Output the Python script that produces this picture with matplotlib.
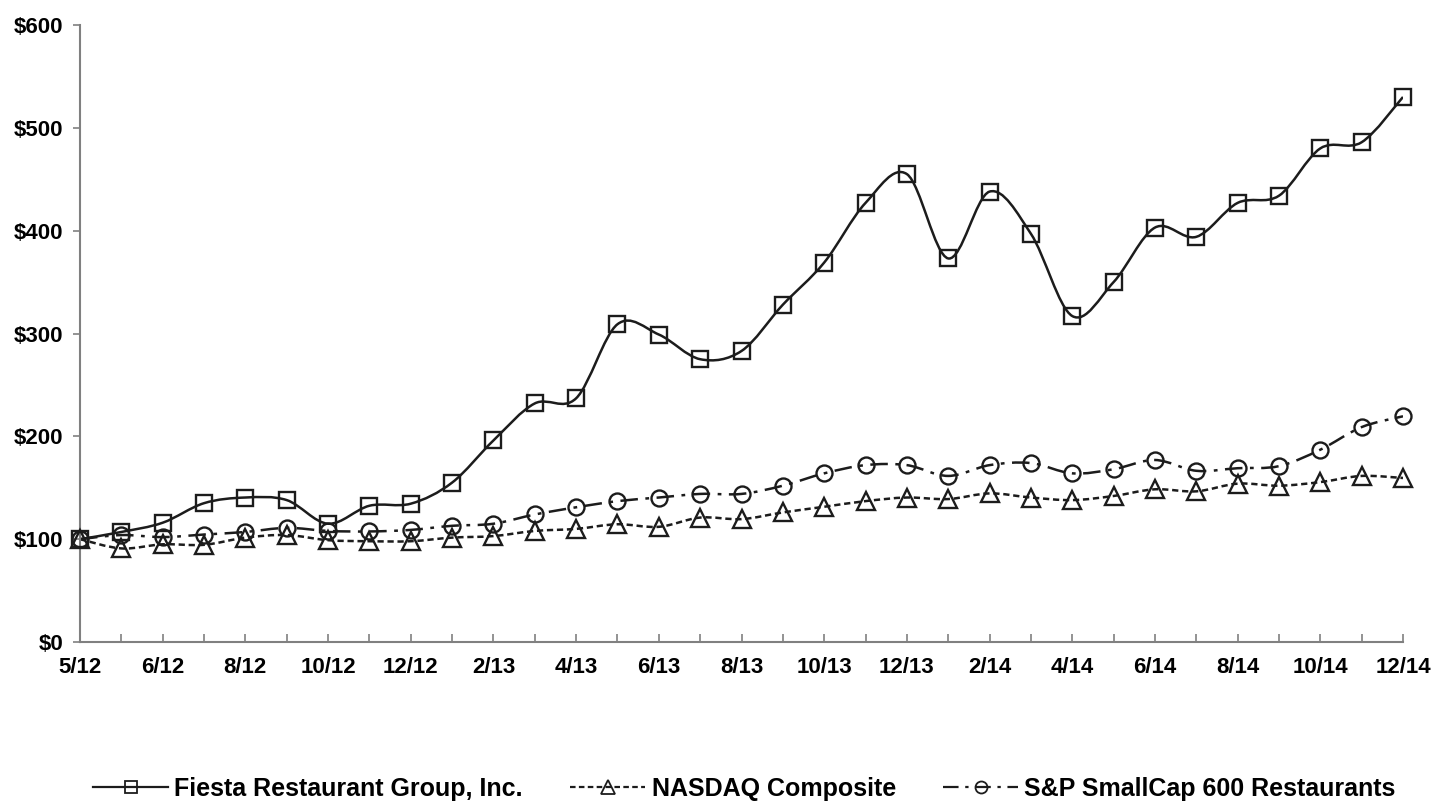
import numpy as np
import matplotlib
matplotlib.use('Agg')
import matplotlib.pyplot as plt
from matplotlib.path import Path
from matplotlib.patches import PathPatch
from matplotlib.lines import Line2D

# first point is the IPO date, then month ends 5/12 .. 12/14
tick_labels = ['5/12', '6/12', '8/12', '10/12', '12/12', '2/13', '4/13', '6/13',
               '8/13', '10/13', '12/13', '2/14', '4/14', '6/14', '8/14', '10/14',
               '12/14']

fiesta = [100, 107, 116, 135, 140.5, 138, 115, 132.5, 134.5, 155, 196, 232,
          237, 309, 299, 275, 283, 328, 369, 427, 455, 373, 438, 397, 317,
          350, 403, 394, 427, 434, 480, 486, 530]
nasdaq = [100, 91, 95, 94.5, 101.5, 104, 99, 98, 98, 101.5, 103, 108, 110,
          114.5, 112, 121, 119.5, 126, 131.5, 137, 140.5, 139, 144.5, 140.5,
          138, 142, 148.5, 146.5, 154, 152, 155.5, 161.5, 159.5]
smallcap = [100, 104, 102, 104.5, 107, 111, 108, 107.5, 109, 113, 115, 124,
            131, 137, 140.5, 144, 144, 152, 164, 172, 172, 161.5, 172, 174,
            164, 168, 177, 166.5, 169, 171, 187, 209, 219.5]

series_names = ['Fiesta Restaurant Group, Inc.', 'NASDAQ Composite',
                'S&P SmallCap 600 Restaurants']

INK = '#1c1c1c'


def smooth_path(x, y):
    """Excel style smoothed line through the points (cubic bezier)"""
    pts = np.column_stack([x, y]).astype(float)
    n = len(pts)
    verts = [pts[0]]
    codes = [Path.MOVETO]
    for i in range(n - 1):
        p0 = pts[max(i - 1, 0)]
        p1 = pts[i]
        p2 = pts[i + 1]
        p3 = pts[min(i + 2, n - 1)]
        verts += [p1 + (p2 - p0) / 6, p2 - (p3 - p1) / 6, p2]
        codes += [Path.CURVE4] * 3
    return Path(verts, codes)


def plot():
    plt.rcParams['font.family'] = ['Liberation Sans', 'DejaVu Sans']
    plt.rcParams['font.weight'] = 'bold'

    fig = plt.figure(figsize=(14.37, 8.01), dpi=100)
    ax = fig.add_axes([80 / 1437, 1 - 642 / 801, 1323 / 1437, 617 / 801])

    x = np.arange(len(fiesta))
    styles = [
        dict(ls='-', marker='s', ms=12),
        dict(ls=(0, (2.5, 1.5)), marker='^', ms=13.5),
        dict(ls=(0, (7, 3, 1.5, 3)), marker='o', ms=11.5),
    ]
    handles = []
    for values, st in zip([fiesta, nasdaq, smallcap], styles):
        patch = PathPatch(smooth_path(x, values), facecolor='none',
                          edgecolor=INK, lw=1.8, linestyle=st['ls'])
        ax.add_patch(patch)
        ax.plot(x, values, ls='none', marker=st['marker'], ms=st['ms'],
                mfc='none', mec=INK, mew=1.7, clip_on=False, zorder=3)
        handles.append(Line2D([], [], color=INK, lw=1.6, ls=st['ls'],
                              marker=st['marker'], ms=st['ms'] * 0.75,
                              mfc='none', mec=INK, mew=1.3))

    ax.set_xlim(0, len(fiesta) - 1)
    ax.set_ylim(0, 600)
    ax.set_xticks(np.arange(1, len(fiesta)), minor=True)
    ax.set_xticks(np.arange(0, len(fiesta), 2))
    ax.set_xticklabels(tick_labels)
    ax.set_yticks(np.arange(0, 601, 100))
    ax.set_yticklabels(['${:d}'.format(v) for v in range(0, 601, 100)])

    for side in ['top', 'right']:
        ax.spines[side].set_visible(False)
    for side in ['left', 'bottom']:
        ax.spines[side].set_color('#808080')
        ax.spines[side].set_linewidth(1.5)

    ax.tick_params(axis='x', which='both', direction='in', length=6,
                   width=1.2, color='#808080')
    ax.tick_params(axis='x', which='major', labelsize=16, pad=11)
    ax.tick_params(axis='y', direction='out', length=5, width=1.2,
                   color='#808080', labelsize=16, pad=7)

    fig.legend(handles, series_names, loc='center left',
               bbox_to_anchor=(93 / 1437, 1 - 789 / 801), ncol=3,
               frameon=False, fontsize=18, handlelength=3.0,
               handletextpad=0.25, columnspacing=1.9, borderpad=0,
               borderaxespad=0)

    fig.savefig('out.png', dpi=100)


if __name__ == '__main__':
    plot()
